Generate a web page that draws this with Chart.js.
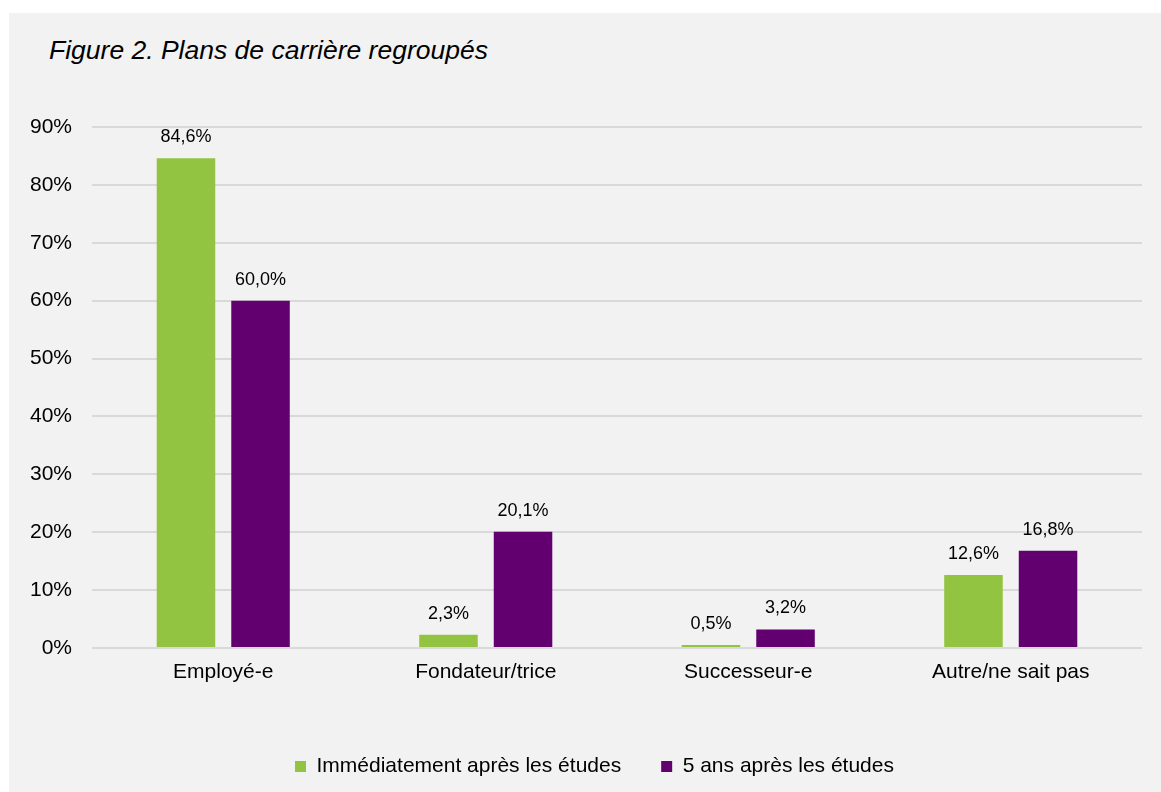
<!DOCTYPE html>
<html>
<head>
<meta charset="utf-8">
<script src="https://cdn.jsdelivr.net/npm/chart.js@4"></script>
<style>
  html, body { margin: 0; padding: 0; background: #ffffff; }
  #panel {
    position: absolute; left: 9px; top: 13px; width: 1152px; height: 779px;
    background: #f2f2f2;
  }
  #title {
    position: absolute; left: 40px; top: 24px;
    font-family: "Liberation Sans", Arial, sans-serif;
    font-style: italic; font-size: 26.5px; line-height: 27px; color: #000;
  }
  #chartBox { position: absolute; left: 0; top: 0; width: 1152px; height: 779px; }
</style>
</head>
<body>
<div id="panel">
  <div id="title">Figure 2. Plans de carrière regroupés</div>
  <div id="chartBox"><canvas id="plans"></canvas></div>
</div>
<script>
// ===== Data =====
const categories = ['Employé-e', 'Fondateur/trice', 'Successeur-e', 'Autre/ne sait pas'];
const seriesNames = ['Immédiatement après les études', '5 ans après les études'];
const immediateValues = [84.6, 2.3, 0.5, 12.6];
const fiveYearValues = [60.0, 20.1, 3.2, 16.8];
const yTicks = [0, 10, 20, 30, 40, 50, 60, 70, 80, 90];

const FONT = '"Liberation Sans", Arial, sans-serif';

// ===== Value labels above bars =====
const valueLabels = {
    id: 'valueLabels',
    afterDatasetsDraw(chart) {
        const ctx = chart.ctx;
        ctx.save();
        ctx.font = '18px ' + FONT;
        ctx.fillStyle = '#000000';
        ctx.textAlign = 'center';
        ctx.textBaseline = 'middle';
        chart.data.datasets.forEach((ds, i) => {
            chart.getDatasetMeta(i).data.forEach((bar, j) => {
                const txt = ds.data[j].toFixed(1).replace('.', ',') + '%';
                ctx.fillText(txt, bar.x, bar.y - 21);
            });
        });
        ctx.restore();
    }
};

// legend sits a bit right of the canvas centre in the original
const shiftLegend = {
    id: 'shiftLegend',
    afterLayout(chart) {
        if (chart.legend) {
            chart.legend.left += 19;
            chart.legend.right += 19;
        }
    }
};

const ctx = document.getElementById('plans').getContext('2d');
const plansChart = new Chart(ctx, {
    type: 'bar',
    data: {
        labels: categories,
        datasets: [
            {
                label: seriesNames[0],
                data: immediateValues,
                backgroundColor: '#92c441',
                borderWidth: 0,
                categoryPercentage: 0.568,
                barPercentage: 0.785
            },
            {
                label: seriesNames[1],
                data: fiveYearValues,
                backgroundColor: '#63006f',
                borderWidth: 0,
                categoryPercentage: 0.568,
                barPercentage: 0.785
            }
        ]
    },
    plugins: [valueLabels, shiftLegend],
    options: {
        responsive: true,
        maintainAspectRatio: false,
        animation: false,
        layout: { padding: { left: 0, right: 19, top: 114, bottom: 5 } },
        plugins: {
            tooltip: { enabled: false },
            legend: {
                position: 'bottom',
                labels: {
                    color: '#000000',
                    font: { family: FONT, size: 21 },
                    boxWidth: 11,
                    boxHeight: 11,
                    padding: 40
                }
            }
        },
        scales: {
            x: {
                grid: { display: false, drawTicks: false },
                border: { display: false },
                ticks: { color: '#000000', font: { family: FONT, size: 21 }, padding: 12 },
                afterFit: (scale) => { scale.height = 68; }
            },
            y: {
                min: 0,
                max: 90,
                afterBuildTicks: (scale) => { scale.ticks = yTicks.map(v => ({ value: v })); },
                afterFit: (scale) => { scale.width = 83; },
                grid: { color: '#d9d9d9', lineWidth: 2, drawTicks: false },
                border: { display: false },
                ticks: {
                    color: '#000000',
                    font: { family: FONT, size: 21 },
                    padding: 20,
                    callback: (v) => v + '%'
                }
            }
        }
    }
});
</script>
</body>
</html>
